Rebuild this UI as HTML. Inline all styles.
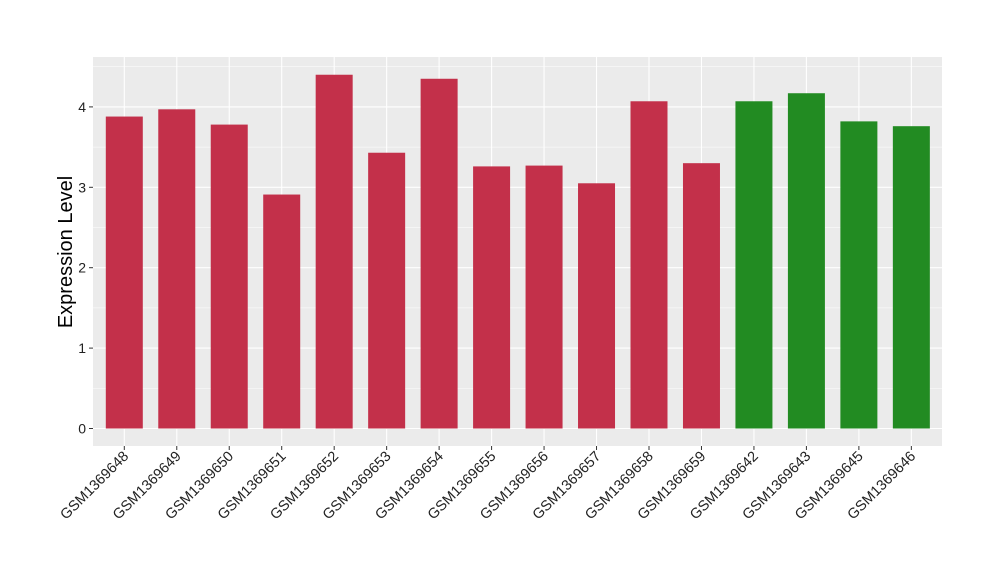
<!DOCTYPE html>
<html><head><meta charset="utf-8"><style>
body{margin:0;background:#fff;}
svg{display:block;font-family:"Liberation Sans",Arial,sans-serif;}
</style></head><body>
<svg id="chart" width="1000" height="580" viewBox="0 0 1000 580">
<rect x="93" y="57" width="849" height="389" fill="#ebebeb"/>
<g id="grid"></g><g id="bars"></g><g id="axes"></g>
<text transform="translate(72,252) rotate(-90)" text-anchor="middle" font-size="20" fill="#000">Expression Level</text>
</svg>
<script>
const categories=["GSM1369648","GSM1369649","GSM1369650","GSM1369651","GSM1369652","GSM1369653","GSM1369654","GSM1369655","GSM1369656","GSM1369657","GSM1369658","GSM1369659","GSM1369642","GSM1369643","GSM1369645","GSM1369646"];
const values=[3.88,3.97,3.78,2.91,4.40,3.43,4.35,3.26,3.27,3.05,4.07,3.30,4.07,4.17,3.82,3.76];
const groups=["a","a","a","a","a","a","a","a","a","a","a","a","b","b","b","b"];
const yTicks=[0,1,2,3,4];
const colors={a:"#c3304a",b:"#228b22"};
const NS="http://www.w3.org/2000/svg";
const y=v=>428.5-v*80.4;
const x=i=>124.3+i*52.47;
const bw=37;
function mk(t,a,p){const e=document.createElementNS(NS,t);for(const k in a)e.setAttribute(k,a[k]);p.appendChild(e);return e;}
const grid=document.getElementById('grid'),bars=document.getElementById('bars'),axes=document.getElementById('axes');
for(let v=-0.5;v<=4.5;v+=0.5){const yy=y(v);if(yy<57||yy>446)continue;
 const l=mk('line',{x1:93,x2:942,y1:yy,y2:yy,stroke:'#fff','stroke-width':Number.isInteger(v)?1.1:0.5},grid);
 
 }
categories.forEach((c,i)=>{const l=mk('line',{x1:x(i),x2:x(i),y1:57,y2:446,stroke:'#fff','stroke-width':1.1},grid);
 
 });
categories.forEach((c,i)=>{
 const r=mk('rect',{x:x(i)-bw/2,y:y(values[i]),width:bw,height:y(0)-y(values[i]),fill:colors[groups[i]]},bars);
 
 
 const t=mk('line',{x1:x(i),x2:x(i),y1:446,y2:450,stroke:'#333'},axes);
 
 
 const tx=mk('text',{transform:`translate(${x(i)+5},${457}) rotate(-45)`,'text-anchor':'end','font-size':14.5,fill:'#222'},axes);
 tx.textContent=c;
 
 
});
yTicks.forEach(v=>{
 const t=mk('line',{x1:89,x2:93,y1:y(v),y2:y(v),stroke:'#333'},axes);
 
 
 const tx=mk('text',{x:86,y:y(v)+5,'text-anchor':'end','font-size':14,fill:'#222'},axes);
 tx.textContent=v;
 
 
});
</script>
</body></html>
